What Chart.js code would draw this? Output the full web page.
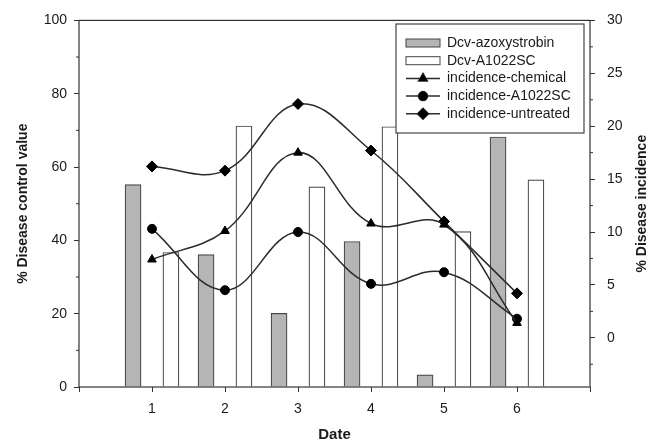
<!DOCTYPE html>
<html>
<head>
<meta charset="utf-8">
<script src="https://cdn.jsdelivr.net/npm/chart.js@4"></script>
<style>
  html, body { margin: 0; padding: 0; background: #fff; }
  #wrap { width: 659px; height: 445px; }
</style>
</head>
<body>
<div id="wrap"><canvas id="chart"></canvas></div>
<script>
// data
const dates = [1, 2, 3, 4, 5, 6];
const dcvAzoxystrobin = [55.2, 36.1, 20.1, 39.7, 3.3, 68.2];
const dcvA1022SC = [36.7, 71.2, 54.6, 71.0, 42.4, 56.5];
const incChemical = [7.4, 10.1, 17.5, 10.8, 10.7, 1.4];
const incA1022SC = [10.3, 4.5, 10.0, 5.1, 6.2, 1.8];
const incUntreated = [16.2, 15.8, 22.1, 17.7, 11.0, 4.2];
const leftTicks = [0, 20, 40, 60, 80, 100];
const rightTicks = [0, 5, 10, 15, 20, 25, 30];

const FONT = '"Liberation Sans", Arial, sans-serif';
const INK = '#1a1a1a';
const LINE = '#2b2b2b';
const BAR_GRAY = '#b5b5b5';
const BAR_EDGE = '#444';

const pts = (vals, shift) => dates.map((d, i) => ({ x: d + shift, y: vals[i] }));

const lineSet = (label, vals, style, radius) => ({
  type: 'line',
  label: label,
  data: pts(vals, 0),
  yAxisID: 'y1',
  borderColor: LINE,
  borderWidth: 1.5,
  backgroundColor: '#000',
  pointStyle: style,
  pointRadius: radius,
  pointBackgroundColor: '#000',
  pointBorderColor: '#000',
  pointBorderWidth: 1,
  tension: 0.4,
  fill: false,
  order: 1
});

const barSet = (label, vals, shift, fill) => ({
  type: 'bar',
  label: label,
  data: pts(vals, shift),
  yAxisID: 'y',
  backgroundColor: fill,
  borderColor: BAR_EDGE,
  borderWidth: 1.2,
  borderSkipped: 'bottom',
  barThickness: 16,
  order: 2
});

const datasets = [
  barSet('Dcv-azoxystrobin', dcvAzoxystrobin, -0.15, BAR_GRAY),
  barSet('Dcv-A1022SC', dcvA1022SC, 0.15, '#fff'),
  lineSet('incidence-chemical', incChemical, 'triangle', 5),
  lineSet('incidence-A1022SC', incA1022SC, 'circle', 4.5),
  lineSet('incidence-untreated', incUntreated, 'rectRot', 5.5)
];

// frame, minor ticks, right title and boxed legend
const extras = {
  id: 'extras',
  afterDraw(chart) {
    const { ctx, chartArea: a, scales } = chart;
    ctx.save();
    ctx.strokeStyle = '#333';
    ctx.lineWidth = 1.2;
    ctx.strokeRect(a.left, a.top, a.right - a.left, a.bottom - a.top);

    ctx.lineWidth = 1;
    ctx.beginPath();
    for (let i = 0; i < leftTicks.length - 1; i++) {
      const y = scales.y.getPixelForValue((leftTicks[i] + leftTicks[i + 1]) / 2);
      ctx.moveTo(a.left - 3, y); ctx.lineTo(a.left, y);
    }
    for (let i = -1; i < rightTicks.length - 1; i++) {
      const v = i < 0 ? rightTicks[0] - 2.5 : (rightTicks[i] + rightTicks[i + 1]) / 2;
      const y = scales.y1.getPixelForValue(v);
      ctx.moveTo(a.right, y); ctx.lineTo(a.right + 3, y);
    }
    ctx.stroke();

    // right axis title reads bottom to top
    ctx.fillStyle = INK;
    ctx.font = 'bold 14px ' + FONT;
    ctx.textAlign = 'center';
    ctx.textBaseline = 'middle';
    ctx.translate(642, (a.top + a.bottom) / 2);
    ctx.rotate(-Math.PI / 2);
    ctx.fillText('% Disease incidence', 0, 0);
    ctx.setTransform(1, 0, 0, 1, 0, 0);

    // legend
    const lx = 396, ly = 24, lw = 188, lh = 109;
    ctx.fillStyle = '#fff';
    ctx.fillRect(lx, ly, lw, lh);
    ctx.strokeStyle = '#444';
    ctx.lineWidth = 1.2;
    ctx.strokeRect(lx, ly, lw, lh);
    ctx.font = '14px ' + FONT;
    ctx.textAlign = 'left';
    chart.data.datasets.forEach((ds, i) => {
      const y = 43 + i * 17.7;
      const sx = 406, sw = 34;
      if (ds.type === 'bar') {
        ctx.fillStyle = ds.backgroundColor;
        ctx.fillRect(sx, y - 4, sw, 8);
        ctx.strokeStyle = BAR_EDGE;
        ctx.lineWidth = 1;
        ctx.strokeRect(sx, y - 4, sw, 8);
      } else {
        ctx.strokeStyle = LINE;
        ctx.lineWidth = 1.5;
        ctx.beginPath();
        ctx.moveTo(sx, y); ctx.lineTo(sx + sw, y);
        ctx.stroke();
        ctx.fillStyle = '#000';
        Chart.helpers.drawPoint(ctx, { pointStyle: ds.pointStyle, radius: ds.pointRadius, borderWidth: 1 }, sx + sw / 2, y);
        ctx.fill();
      }
      ctx.fillStyle = INK;
      ctx.fillText(ds.label, 447, y);
    });
    ctx.restore();
  }
};

Chart.defaults.font.family = FONT;
Chart.defaults.color = INK;

new Chart(document.getElementById('chart'), {
  data: { datasets: datasets },
  plugins: [extras],
  options: {
    responsive: true,
    maintainAspectRatio: false,
    animation: false,
    layout: { padding: { top: 19, left: 0, right: 0, bottom: 0 } },
    plugins: { legend: { display: false }, tooltip: { enabled: false } },
    scales: {
      x: {
        type: 'linear',
        min: 0,
        max: 7,
        offset: false,
        grid: { offset: false, drawOnChartArea: false, color: '#333', tickLength: 5 },
        border: { display: false },
        ticks: {
          stepSize: 1,
          padding: 9,
          font: { size: 14 },
          maxRotation: 0,
          callback: v => dates.includes(v) ? String(v) : ''
        },
        title: { display: true, text: 'Date', font: { size: 15, weight: 'bold' }, padding: { top: 0, bottom: 1 } },
        afterFit: s => { s.height = 58; }
      },
      y: {
        position: 'left',
        min: 0,
        max: 100,
        grid: { drawOnChartArea: false, color: '#333', tickLength: 5 },
        border: { display: false },
        ticks: { stepSize: 20, padding: 7, font: { size: 14 } },
        title: { display: true, text: '% Disease control value', font: { size: 14, weight: 'bold' }, padding: { top: 15, bottom: 0 } },
        afterFit: s => { s.width = 79; }
      },
      y1: {
        position: 'right',
        min: -4.65,
        max: 30,
        grid: { drawOnChartArea: false, color: '#333', tickLength: 5 },
        border: { display: false },
        ticks: { stepSize: 5, padding: 12, font: { size: 14 } },
        afterBuildTicks: s => { s.ticks = rightTicks.map(v => ({ value: v })); },
        afterFit: s => { s.width = 69; }
      }
    }
  }
});
</script>
</body>
</html>
